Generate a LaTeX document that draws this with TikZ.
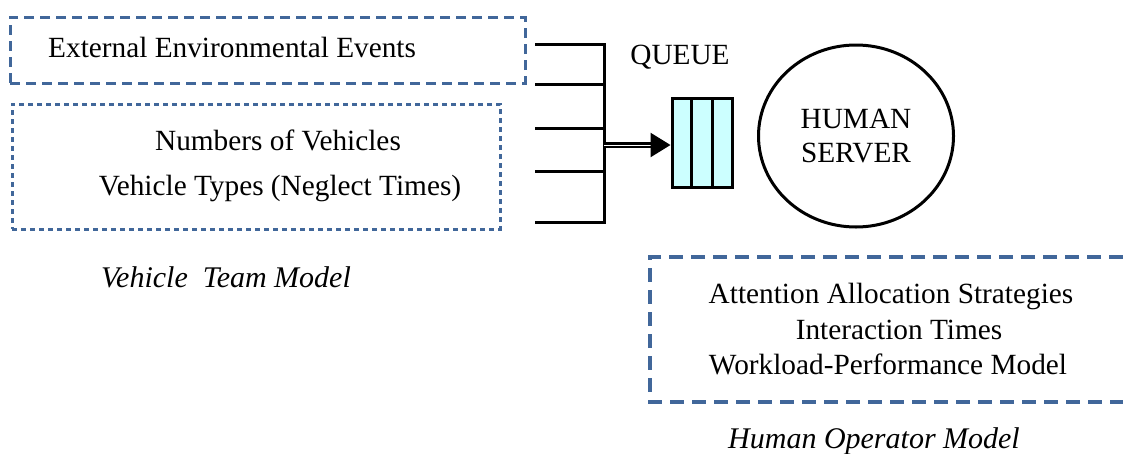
\documentclass[tikz,border=0pt]{standalone}
\usepackage{fontspec}
\setmainfont{Liberation Serif}
\usetikzlibrary{arrows.meta,shapes.geometric,calc}

\definecolor{dashblue}{HTML}{41679A}
\definecolor{queuecyan}{HTML}{CCFFFF}

\begin{document}
\begin{tikzpicture}[x=1pt, y=-1pt,
  txt/.style={inner sep=0pt, font=\fontsize{29.3}{34}\selectfont},
  label/.style={txt, font=\fontsize{30}{34}\selectfont\itshape},
  wire/.style={draw=black, line width=3pt},
  modelbox/.style={rectangle, draw=dashblue, line width=3pt, dash pattern=on 10pt off 6pt},
  finebox/.style={rectangle, draw=dashblue, line width=3pt, dash pattern=on 5pt off 4pt}]

  \useasboundingbox (0,0) rectangle (1123,453);

  \node[modelbox, minimum width=515pt, minimum height=66pt] (events) at (267.5,50) {};
  \node[txt, anchor=west] (eventstext) at (48,47) {External Environmental Events};

  \node[finebox, minimum width=488pt, minimum height=125pt] (team) at (256,166.5) {};
  \node[txt] (numbers) at (278,140) {Numbers of Vehicles};
  \node[txt] (types) at (280,188) {Vehicle Types (Neglect Times)};
  \node[label] (teamlabel) at (226,277) {Vehicle\ \ Team Model};

  \node[coordinate] (bus) at (604,145) {};
  \foreach \y [count=\i] in {44,84,128,171,222} {
    \node[coordinate] (in\i) at (535,\y) {};
    \draw[wire] (in\i) -- (in\i -| bus);
  }
  \draw[wire, line cap=rect] (in1 -| bus) -- (in5 -| bus);

  \node[txt] (queuelabel) at (680,57) {QUEUE};
  \node[rectangle, draw, line width=3pt, fill=queuecyan, minimum width=60pt, minimum height=89pt] (queue) at (702,143) {};
  \foreach \f in {1/3,2/3}
    \draw[line width=3pt] ($(queue.north west)!\f!(queue.north east)$) -- ($(queue.south west)!\f!(queue.south east)$);

  \draw[-{Triangle[length=20pt,width=24pt]}, double, double distance=1pt, line width=2.5pt] (bus) -- (bus -| queue.west);

  \node[ellipse, draw, line width=3pt, minimum width=195pt, minimum height=182pt, txt, align=center] (server) at (856,136) {HUMAN\\SERVER};

  \node[coordinate] (op-ne) at (1123,257) {};
  \node[coordinate] (op-nw) at (650,257) {};
  \node[coordinate] (op-sw) at (650,402) {};
  \node[coordinate] (op-se) at (1123,402) {};
  \draw[draw=dashblue, line width=3.5pt, dash pattern=on 14pt off 8pt] (op-ne) -- (op-nw) -- (op-sw) -- (op-se);
  \node[txt] (strategies) at (891,296) {Attention Allocation Strategies};
  \node[txt] (interaction) at (899,330) {Interaction Times};
  \node[txt] (workload) at (888,364) {Workload-Performance Model};
  \node[label] (operatorlabel) at (874,441) {Human Operator Model};

\end{tikzpicture}
\end{document}
